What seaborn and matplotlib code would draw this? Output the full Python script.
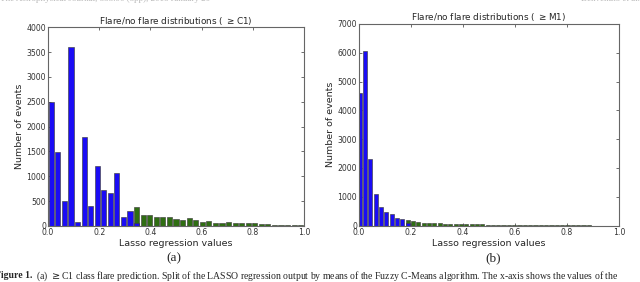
import numpy as np
import pandas as pd
import seaborn as sns
import matplotlib
matplotlib.use("Agg")
import matplotlib.pyplot as plt

# (a) >=C1: 39 bins over [0, 1]
c1_edges = np.linspace(0.0, 1.0, 40)
c1_noflare = [2500, 1490, 505, 3610, 88, 1795, 410, 1210, 727, 660, 1060, 178, 298, 55] + [0] * 25
c1_flare = [0] * 13 + [385, 215, 215, 170, 170, 178, 140, 118, 158, 120, 88, 95, 62,
                       62, 82, 55, 62, 68, 68, 42, 40, 22, 8, 8, 8, 8]

# (b) >=M1: 49 bins starting a bit below 0
m1_edges = -0.0075 + 0.0205 * np.arange(50)
m1_noflare = [4620, 6050, 2320, 1090, 650, 480, 390, 260, 230, 100] + [0] * 39
m1_flare = [0] * 9 + [190, 160, 130, 100, 95, 80, 75, 70, 60, 45,
                      40, 40, 45, 55, 40, 35, 20, 18, 15, 12,
                      10, 10, 8, 8, 6, 6, 6, 5, 5, 8,
                      6, 5, 5, 4, 4, 3, 3, 3, 3, 3]

BLUE = "#1a0cf5"
GREEN = "#2f6e12"

sns.set_style("ticks")
plt.rcParams["font.family"] = ["DejaVu Sans"]
plt.rcParams["xtick.direction"] = "in"
plt.rcParams["ytick.direction"] = "in"
plt.rcParams["xtick.top"] = True
plt.rcParams["ytick.right"] = True


def make_df(edges, counts):
    centers = (edges[:-1] + edges[1:]) / 2
    df = pd.DataFrame({"value": centers, "count": counts})
    return df[df["count"] > 0]


def draw(ax, edges, noflare, flare, title, ymax, yticks):
    for counts, col in [(flare, GREEN), (noflare, BLUE)]:
        sns.histplot(data=make_df(edges, counts), x="value", weights="count",
                     bins=len(edges) - 1, binrange=(edges[0], edges[-1]),
                     shrink=0.78, color=col, alpha=1.0,
                     edgecolor="#404040", linewidth=0.45, ax=ax)
    ax.set_xlim(0, 1)
    ax.set_ylim(0, ymax)
    ax.set_xticks(np.arange(0, 1.01, 0.2))
    ax.set_xticklabels(["0.0", "0.2", "0.4", "0.6", "0.8", "1.0"])
    ax.set_yticks(yticks)
    ax.tick_params(labelsize=5.6, length=2.5, width=0.5, pad=1.5, colors="#333333")
    ax.set_title(title, fontsize=6.4, pad=2.5)
    ax.set_xlabel("Lasso regression values", fontsize=6.8, labelpad=1.5)
    ax.set_ylabel("Number of events", fontsize=6.8, labelpad=2)
    for s in ax.spines.values():
        s.set_color("#666666")
        s.set_linewidth(0.8)


fig = plt.figure(figsize=(6.4, 2.82), dpi=100)
ax1 = fig.add_axes([0.075, 0.199, 0.400, 0.704])
ax2 = fig.add_axes([0.561, 0.200, 0.406, 0.715])

draw(ax1, c1_edges, c1_noflare, c1_flare,
     "Flare/no flare distributions ( $\\geq$C1)", 4000, np.arange(0, 4001, 500))
draw(ax2, m1_edges, m1_noflare, m1_flare,
     "Flare/no flare distributions ( $\\geq$M1)", 7000, np.arange(0, 7001, 1000))

serif = ["Liberation Serif", "DejaVu Serif"]
fig.text(0.272, 0.083, "(a)", fontsize=9.5, family=serif, ha="center", va="center")
fig.text(0.770, 0.083, "(b)", fontsize=9.5, family=serif, ha="center", va="center")

# page header (cut off at the top)
fig.text(0.0, 1.005, "The Astrophysical Journal, 853:90 (8pp), 2018 January 20",
         fontsize=6.5, family=serif, color="#b8b8b8", ha="left", va="center")
fig.text(1.0, 1.005, "Benvenuto et al.", fontsize=6.5, family=serif,
         color="#b8b8b8", ha="right", va="center")

# caption (cut off at both sides)
t1 = fig.text(-0.008, 0.022, "Figure 1.", fontsize=7, family=serif,
              weight="bold", ha="left", va="center")
fig.canvas.draw()
bb = t1.get_window_extent().transformed(fig.transFigure.inverted())
fig.text(bb.x1 + 0.006, 0.022,
         "(a) $\\geq$C1 class flare prediction. Split of the LASSO regression output "
         "by means of the Fuzzy C-Means algorithm. The x-axis shows the values of the",
         fontsize=7, family=serif, ha="left", va="center")

fig.savefig("out.png", dpi=100)
